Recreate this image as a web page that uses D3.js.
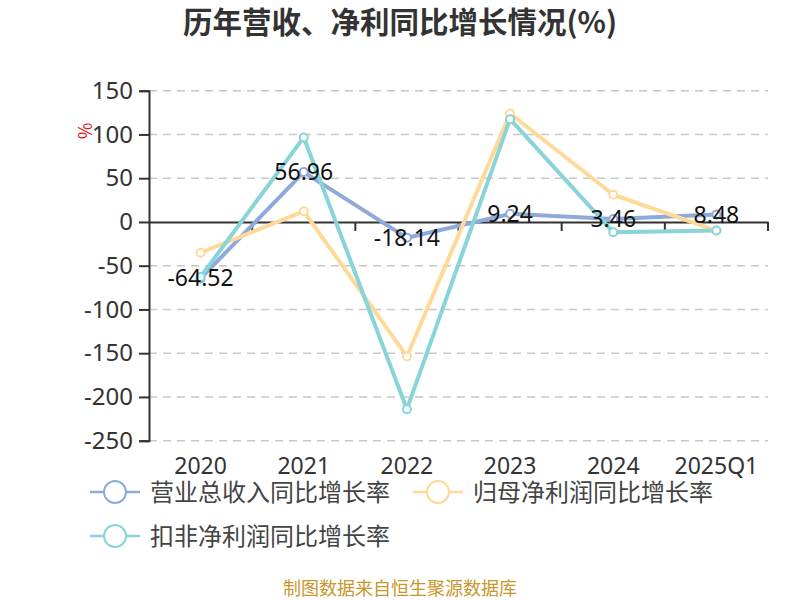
<!DOCTYPE html>
<html>
<head>
<meta charset="utf-8">
<script src="https://cdn.jsdelivr.net/npm/d3@7/dist/d3.min.js"></script>
<style>
  body { margin: 0; background: #fff; }
  svg { font-family: "Noto Sans CJK SC", "Noto Sans", sans-serif; }
</style>
</head>
<body>
<svg id="chart"></svg>
<script>
var categories = ["2020", "2021", "2022", "2023", "2024", "2025Q1"];
var revenueGrowth = [-64.52, 56.96, -18.14, 9.24, 3.46, 8.48];
var netProfitGrowth = [-35.2, 12.2, -153.7, 123.9, 31.1, -9.8];
var deductedProfitGrowth = [-62.8, 96.6, -214.0, 117.5, -11.7, -9.8];
var yTicks = [150, 100, 50, 0, -50, -100, -150, -200, -250];

var seriesList = [
    { name: "营业总收入同比增长率", values: revenueGrowth, color: "#8eaadb", labels: true },
    { name: "归母净利润同比增长率", values: netProfitGrowth, color: "#ffd999", labels: false },
    { name: "扣非净利润同比增长率", values: deductedProfitGrowth, color: "#88d4d8", labels: false }
];

var width = 800, height = 600;
var plotLeft = 149, plotRight = 768, plotTop = 90.7, plotBottom = 440.7;

var svg = d3.select("#chart").attr("width", width).attr("height", height);

var x = d3.scaleBand().domain(categories).range([plotLeft, plotRight]);
var y = d3.scaleLinear().domain([-250, 150]).range([plotBottom, plotTop]);

// title
svg.append("text")
    .attr("x", 400).attr("y", 33)
    .attr("text-anchor", "middle")
    .style("font-size", "29.5px").style("font-weight", "bold").style("fill", "#333")
    .text("历年营收、净利同比增长情况(%)");

// grid
svg.append("g").selectAll("line")
    .data(yTicks.filter(function (d) { return d !== 0; }))
    .enter().append("line")
    .attr("x1", plotLeft).attr("x2", plotRight)
    .attr("y1", function (d) { return y(d); })
    .attr("y2", function (d) { return y(d); })
    .attr("stroke", "#c8c8c8").attr("stroke-width", 1.5)
    .attr("stroke-dasharray", "8,6");

// y axis
var yAxis = svg.append("g")
    .attr("transform", "translate(" + plotLeft + ",0)")
    .call(d3.axisLeft(y).tickValues(yTicks).tickSize(10).tickPadding(6)
        .tickFormat(function (d) { return String(d); }));
yAxis.select(".domain").attr("stroke", "#333").attr("stroke-width", 2);
yAxis.selectAll(".tick line").attr("stroke", "#333").attr("stroke-width", 2);
yAxis.selectAll(".tick text").style("font-size", "24px").style("fill", "#333")
    .style("font-family", "'Noto Sans', sans-serif");

// x axis at zero
var xAxis = svg.append("g")
    .attr("transform", "translate(0," + y(0) + ")")
    .call(d3.axisBottom(x).tickSize(0).tickFormat(""));
xAxis.select(".domain").attr("stroke", "#333").attr("stroke-width", 2);
svg.append("g").selectAll("line")
    .data(categories)
    .enter().append("line")
    .attr("x1", function (d) { return x(d) + x.bandwidth(); })
    .attr("x2", function (d) { return x(d) + x.bandwidth(); })
    .attr("y1", y(0)).attr("y2", y(0) + 9)
    .attr("stroke", "#333").attr("stroke-width", 2);

// x labels at bottom
svg.append("g").selectAll("text")
    .data(categories)
    .enter().append("text")
    .attr("x", function (d) { return x(d) + x.bandwidth() / 2; })
    .attr("y", 474)
    .attr("text-anchor", "middle")
    .style("font-size", "23px").style("fill", "#333")
    .style("font-family", "'Noto Sans', sans-serif")
    .text(function (d) { return d; });

// y unit label
svg.append("text")
    .attr("transform", "translate(92,131) rotate(-90)")
    .attr("text-anchor", "middle")
    .style("font-size", "18px").style("fill", "#e8131b")
    .text("%");

var line = d3.line()
    .x(function (d, i) { return x(categories[i]) + x.bandwidth() / 2; })
    .y(function (d) { return y(d); });

seriesList.forEach(function (s) {
    svg.append("path")
        .datum(s.values)
        .attr("d", line)
        .attr("fill", "none")
        .attr("stroke", s.color).attr("stroke-width", 4)
        .attr("stroke-linejoin", "round");
});

seriesList.forEach(function (s) {
    svg.append("g").selectAll("circle")
        .data(s.values)
        .enter().append("circle")
        .attr("cx", function (d, i) { return x(categories[i]) + x.bandwidth() / 2; })
        .attr("cy", function (d) { return y(d); })
        .attr("r", 4)
        .attr("fill", "#fff")
        .attr("stroke", s.color).attr("stroke-width", 2);
});

seriesList.filter(function (s) { return s.labels; }).forEach(function (s) {
    svg.append("g").selectAll("text")
        .data(s.values)
        .enter().append("text")
        .attr("x", function (d, i) { return x(categories[i]) + x.bandwidth() / 2; })
        .attr("y", function (d) { return y(d) + 8; })
        .attr("text-anchor", "middle")
        .style("font-size", "23px").style("fill", "#111")
        .style("font-family", "'Noto Sans', sans-serif")
        .text(function (d) { return d.toFixed(2); });
});

// legend
var legendPos = [[90, 492], [413, 492], [90, 536]];
seriesList.forEach(function (s, i) {
    var g = svg.append("g").attr("transform", "translate(" + legendPos[i][0] + "," + legendPos[i][1] + ")");
    g.append("line").attr("x1", 0).attr("x2", 50).attr("y1", 0).attr("y2", 0)
        .attr("stroke", s.color).attr("stroke-width", 2.5);
    g.append("circle").attr("cx", 25).attr("cy", 0).attr("r", 11)
        .attr("fill", "#fff").attr("stroke", s.color).attr("stroke-width", 2);
    g.append("text").attr("x", 60).attr("y", 9)
        .style("font-size", "24px").style("fill", "#444")
        .text(s.name);
});

// footer
svg.append("text")
    .attr("x", 400).attr("y", 595)
    .attr("text-anchor", "middle")
    .style("font-size", "18px").style("fill", "#c9962b")
    .text("制图数据来自恒生聚源数据库");
</script>
</body>
</html>
